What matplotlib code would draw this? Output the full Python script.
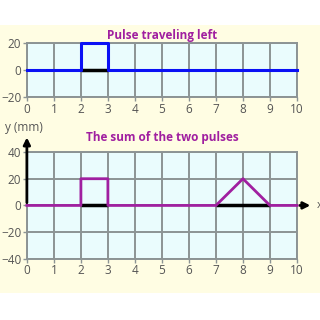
import matplotlib
matplotlib.use('Agg')
import matplotlib.pyplot as plt
from matplotlib.patches import Rectangle

# data
top_x = [0, 2, 2, 3, 3, 10]
top_y = [0, 0, 20, 20, 0, 0]
sum_x = [0, 2, 2, 3, 3, 7, 8, 9, 10]
sum_y = [0, 0, 20, 20, 0, 0, 20, 0, 0]
base_top = [(2, 3)]
base_sum = [(2, 3), (7, 9)]
x_ticks = list(range(0, 11))
top_yticks = [-20, 0, 20]
sum_yticks = [-40, -20, 0, 20, 40]

plt.rcParams['font.family'] = ['Open Sans', 'DejaVu Sans']
grid_c = '#8c9494'
tick_c = '#555555'
purple = '#a01fa0'

fig = plt.figure(figsize=(3.2, 3.2), dpi=100)
fig.patch.set_facecolor('white')
fig.add_artist(Rectangle((0, 0.084), 1, 0.838, transform=fig.transFigure,
                         facecolor='#fffde3', edgecolor='none', zorder=-10))

ax1 = fig.add_axes([0.084, 0.697, 0.844, 0.169])
ax2 = fig.add_axes([0.084, 0.191, 0.844, 0.334])

for ax, yt in ((ax1, top_yticks), (ax2, sum_yticks)):
    ax.set_facecolor('#eafcfd')
    ax.set_xlim(0, 10)
    ax.set_ylim(yt[0], yt[-1])
    ax.set_xticks(x_ticks)
    ax.set_yticks(yt)
    ax.grid(True, color=grid_c, linewidth=1.4)
    ax.set_axisbelow(True)
    for s in ax.spines.values():
        s.set_color(grid_c)
        s.set_linewidth(1.4)
    ax.tick_params(colors=grid_c, labelcolor=tick_c, labelsize=8.5,
                   length=3, width=1, pad=1)

for a, b in base_top:
    ax1.plot([a, b], [0, 0], color='black', lw=2.5, solid_capstyle='butt', zorder=3)
ax1.plot(top_x, top_y, color='#0a10f5', lw=2.2, zorder=4, clip_on=False)
ax1.set_title('Pulse traveling left', color=purple, fontsize=8.5,
              fontweight='bold', pad=3)

for a, b in base_sum:
    ax2.plot([a, b], [0, 0], color='black', lw=2.5, solid_capstyle='butt', zorder=3)
ax2.annotate('', xy=(0, 53), xytext=(0, 0),
             arrowprops=dict(arrowstyle='-|>', color='black', lw=2,
                             mutation_scale=10), annotation_clip=False)
ax2.annotate('', xy=(10.6, 0), xytext=(10, 0),
             arrowprops=dict(arrowstyle='-|>', color='black', lw=2,
                             mutation_scale=10), annotation_clip=False)
ax2.plot(sum_x, sum_y, color=purple, lw=2, zorder=4, clip_on=False)
ax2.text(10.72, 0, 'x', fontsize=8, color=tick_c, va='center', ha='left')
ax2.text(-0.8, 58, 'y (mm)', fontsize=8.5, color=tick_c, va='center', ha='left')
ax2.set_title('The sum of the two pulses', color=purple, fontsize=8.5,
              fontweight='bold', pad=8)

fig.savefig('out.png', dpi=100)
